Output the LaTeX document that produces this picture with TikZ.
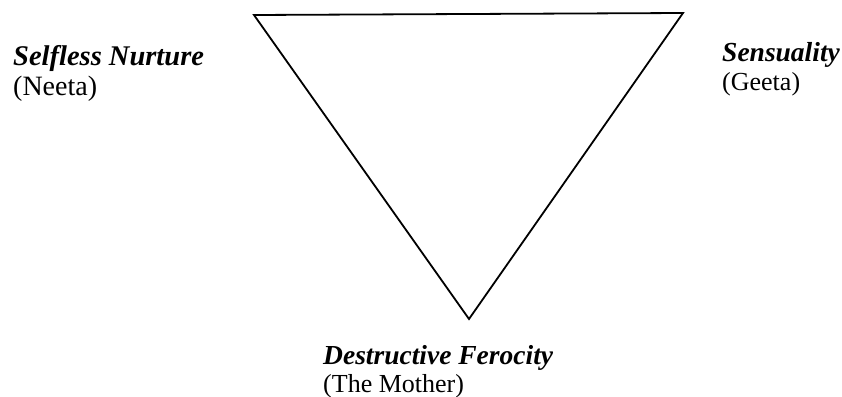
\documentclass[tikz,border=0pt]{standalone}
\usepackage{fontspec}
\setmainfont{Liberation Serif}
\usepackage{tikz}

\tikzset{
    role/.style={anchor=base west, inner sep=0pt, font=\fontsize{27.5}{30}\selectfont\bfseries\itshape},
    person/.style={anchor=base west, inner sep=0pt, font=\fontsize{26}{28}\selectfont}
}

\begin{document}
\begin{tikzpicture}[x=1pt, y=-1pt]
    \useasboundingbox (0,0) rectangle (842,396);

    % Corners
    \coordinate (nurture) at (254,15);
    \coordinate (sensual) at (683,13);
    \coordinate (ferocity) at (469,319);

    % Triangle
    \draw[line width=1.8pt, line join=miter] (nurture) -- (sensual) -- (ferocity) -- cycle;

    % Labels
    \node[role, font=\fontsize{28.5}{30}\selectfont\bfseries\itshape] (nurtureT) at (13,65) {Selfless Nurture};
    \node[person, font=\fontsize{28}{30}\selectfont] (nurtureN) at (13,95) {(Neeta)};
    \node[role] (sensualT) at (722,61) {Sensuality};
    \node[person] (sensualN) at (722,90) {(Geeta)};
    \node[role] (ferocityT) at (323,364) {Destructive Ferocity};
    \node[person] (ferocityN) at (323,392) {(The Mother)};
\end{tikzpicture}
\end{document}
